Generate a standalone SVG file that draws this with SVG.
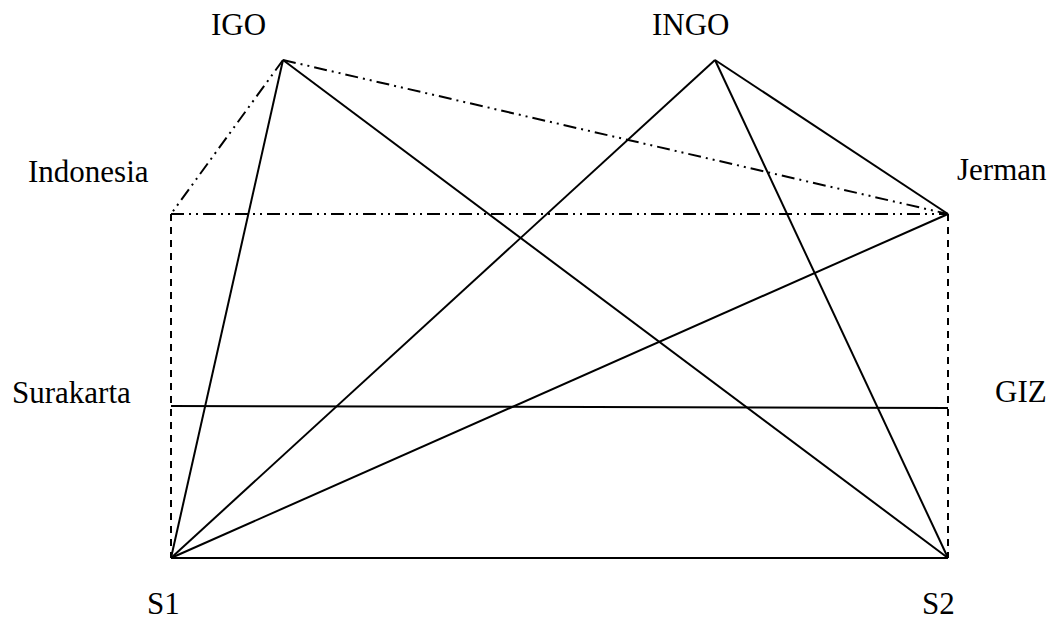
<svg xmlns="http://www.w3.org/2000/svg" width="1057" height="628" viewBox="0 0 1057 628">
<style>
text{font-family:"Liberation Serif","Times New Roman",serif;font-size:31px;fill:#000}
line{stroke:#000;stroke-width:2;fill:none}
.dd{stroke-dasharray:13 5 2 5 2 5}
.da{stroke-dasharray:7 6}
</style>
<rect width="1057" height="628" fill="#fff"/>
<g id="connectors">
<line class="dd" x1="283" y1="60" x2="171" y2="214"/>
<line class="dd" x1="283" y1="60" x2="948" y2="214"/>
<line class="dd" x1="171" y1="214" x2="948" y2="214"/>
<line class="da" x1="171" y1="214" x2="171" y2="558"/>
<line class="da" x1="948" y1="214" x2="948" y2="558"/>
<line x1="283" y1="60" x2="171" y2="558"/>
<line x1="283" y1="60" x2="948" y2="558"/>
<line x1="715" y1="60" x2="171" y2="558"/>
<line x1="715" y1="60" x2="948" y2="558"/>
<line x1="715" y1="60" x2="948" y2="214"/>
<line x1="948" y1="214" x2="171" y2="558"/>
<line x1="171" y1="406" x2="948" y2="408"/>
<line x1="171" y1="558" x2="948" y2="558"/>
</g>
<g id="igo"><text x="211" y="35">IGO</text></g>
<g id="ingo"><text x="652" y="35">INGO</text></g>
<g id="indonesia"><text x="28" y="182">Indonesia</text></g>
<g id="jerman"><text x="957" y="180">Jerman</text></g>
<g id="surakarta"><text x="12" y="403">Surakarta</text></g>
<g id="giz"><text x="995" y="402">GIZ</text></g>
<g id="s1"><text x="147" y="614">S1</text></g>
<g id="s2"><text x="922" y="614">S2</text></g>
</svg>
